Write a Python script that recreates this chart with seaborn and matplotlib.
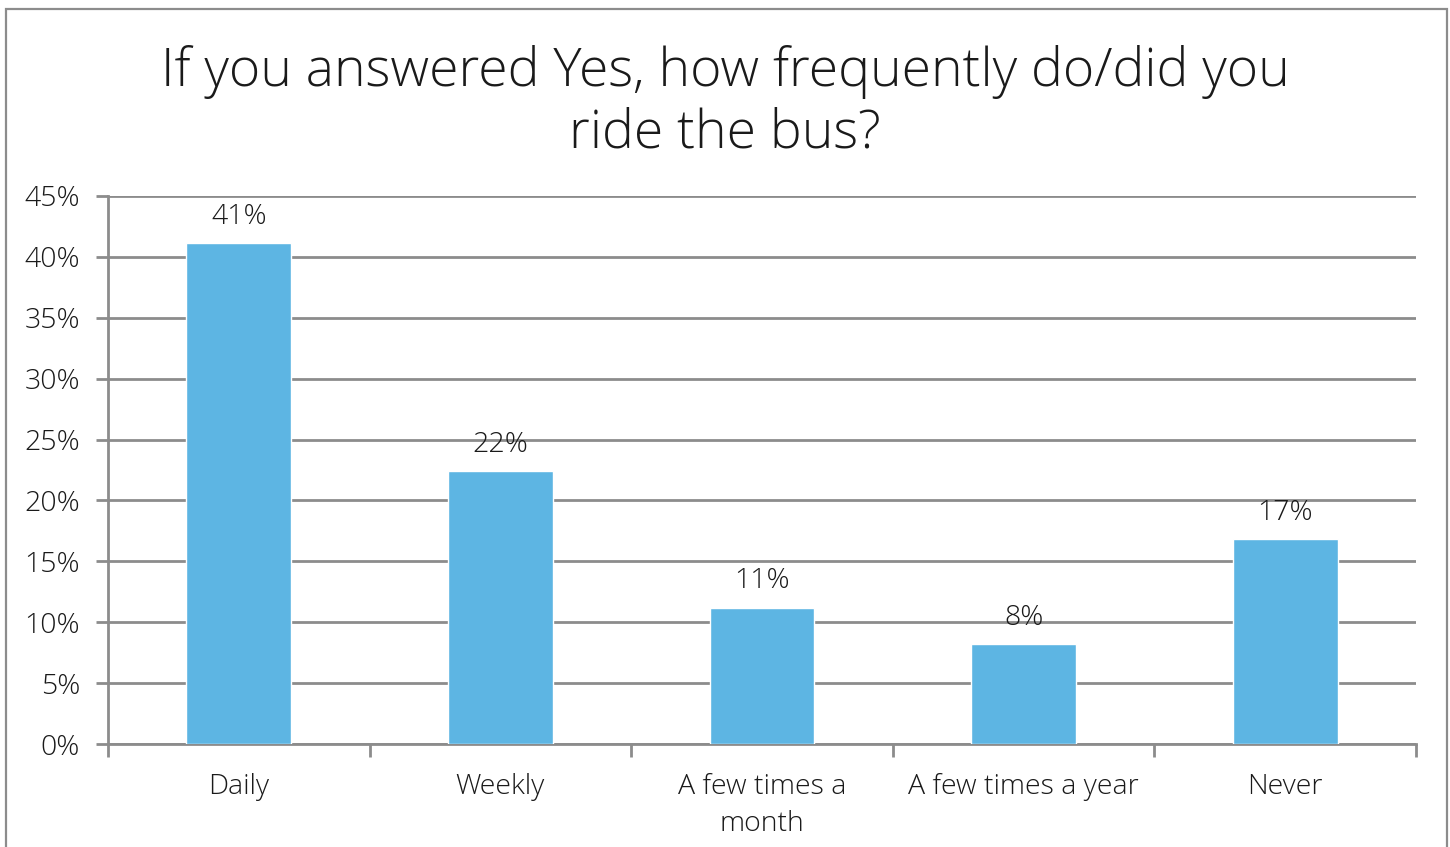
import matplotlib
matplotlib.use("Agg")
import matplotlib.pyplot as plt
from matplotlib.patches import Rectangle
from matplotlib.ticker import FixedLocator, PercentFormatter
import seaborn as sns
import pandas as pd

categories = ["Daily", "Weekly", "A few times a\nmonth", "A few times a year", "Never"]
shares = [41.1, 22.4, 11.2, 8.2, 16.8]
y_ticks = [0, 5, 10, 15, 20, 25, 30, 35, 40, 45]

title = "If you answered Yes, how frequently do/did you\nride the bus?"

sns.set_theme(style="white")
plt.rcParams["font.family"] = ["Open Sans", "DejaVu Sans"]
plt.rcParams["font.weight"] = "light"

W, H = 1450, 847
fig = plt.figure(figsize=(W / 100, H / 100), dpi=100)
fig.patch.set_facecolor("white")

grey = "#8c8c8c"
bar_blue = "#5db5e3"
ink = "#1a1a1a"
label_size = 20.5

# outer frame around the chart area
fig.patches.append(Rectangle((6 / W, -0.05), (1447 - 6) / W, 1.05 - 9 / H,
                             transform=fig.transFigure, fill=False,
                             edgecolor=grey, linewidth=1.6))

ax = fig.add_axes([108 / W, (H - 744) / H, (1416 - 108) / W, (744 - 196) / H])

df = pd.DataFrame({"cat": categories, "share": shares})
sns.barplot(data=df, x="cat", y="share", color=bar_blue, width=0.4,
            saturation=1, ax=ax, zorder=3)

ax.set_xlim(-0.5, len(categories) - 0.5)
ax.set_ylim(0, 45)
ax.set_xlabel("")
ax.set_ylabel("")

ax.yaxis.set_major_locator(FixedLocator(y_ticks))
ax.yaxis.set_major_formatter(PercentFormatter(decimals=0))
ax.grid(axis="y", color=grey, linewidth=2, zorder=0)
ax.set_axisbelow(True)

for side in ["top", "right"]:
    ax.spines[side].set_visible(False)
for side in ["left", "bottom"]:
    ax.spines[side].set_color(grey)
    ax.spines[side].set_linewidth(2)

ax.tick_params(axis="y", direction="out", length=9, width=2, color=grey,
               labelsize=label_size, labelcolor=ink, pad=11, left=True)
ax.tick_params(axis="x", which="major", length=0, labelsize=label_size,
               labelcolor=ink, pad=21)
ax.set_xticks([i - 0.5 for i in range(len(categories) + 1)], minor=True)
ax.tick_params(axis="x", which="minor", direction="out", length=9, width=2,
               color=grey, bottom=True)
for lbl in ax.get_xticklabels():
    lbl.set_linespacing(1.42)
    lbl.set_verticalalignment("top")

for i, v in enumerate(shares):
    ax.annotate(f"{round(v):d}%", (i, v), xytext=(0, 9), textcoords="offset points",
                ha="center", va="bottom", fontsize=label_size, color=ink)

fig.text(0.5, 1 - 45 / H, title, ha="center", va="top", fontsize=38.5,
         color=ink, linespacing=1.2)

fig.savefig("out.png", dpi=100)
